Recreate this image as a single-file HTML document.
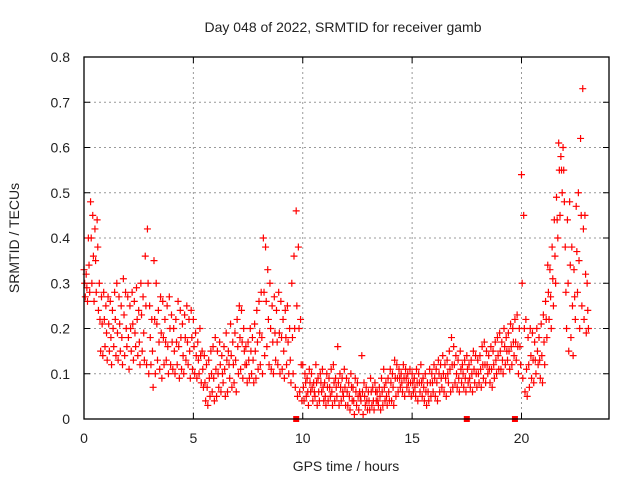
<!DOCTYPE html>
<html><head><meta charset="utf-8"><style>
body{margin:0;background:#fff}
svg{display:block;font-family:"Liberation Sans",sans-serif}
</style></head><body>
<svg id="chart" width="640" height="480">
<text x="343" y="32" text-anchor="middle" font-size="14" fill="#222">Day 048 of 2022, SRMTID for receiver gamb</text>
<text transform="translate(19,238) rotate(-90)" text-anchor="middle" font-size="14" fill="#222">SRMTID / TECUs</text>
<text x="346" y="471" text-anchor="middle" font-size="14" fill="#222">GPS time / hours</text>
<g id="grid"></g>
<g id="ticks"></g>
<g id="points"></g>
<rect x="84" y="57" width="525" height="362" fill="none" stroke="#000" stroke-width="1.3"/>
</svg>
<script>
const xTicks=[0,5,10,15,20];
const yTicks=[0,0.1,0.2,0.3,0.4,0.5,0.6,0.7,0.8];
const yTickLabels=["0","0.1","0.2","0.3","0.4","0.5","0.6","0.7","0.8"];
const startHour=0, stepHour=0.1;
const hiVals=[.33,.32,.40,.48,.45,.42,.44,.30,.27,.28,
.25,.27,.26,.24,.28,.30,.27,.25,.31,.28,
.27,.25,.28,.26,.29,.24,.30,.27,.36,.42,
.25,.22,.35,.30,.24,.27,.26,.22,.25,.27,
.23,.20,.22,.26,.24,.21,.23,.25,.22,.24,
.22,.19,.17,.20,.15,.14,.12,.13,.15,.16,
.18,.15,.17,.14,.16,.19,.15,.21,.17,.19,
.22,.25,.24,.20,.16,.17,.20,.18,.21,.24,
.26,.28,.40,.38,.33,.30,.25,.27,.24,.28,
.26,.22,.24,.25,.20,.30,.36,.46,.38,.22,
.12,.10,.09,.11,.10,.08,.12,.09,.10,.11,
.08,.10,.09,.11,.12,.09,.16,.10,.09,.11,
.09,.08,.10,.07,.09,.08,.06,.14,.08,.07,
.06,.09,.07,.08,.06,.07,.09,.11,.08,.09,
.11,.10,.13,.12,.11,.10,.12,.11,.10,.11,
.10,.09,.11,.10,.12,.09,.10,.08,.11,.10,
.12,.11,.13,.12,.14,.12,.13,.15,.18,.16,
.14,.13,.15,.12,.13,.14,.12,.13,.15,.14,
.13,.14,.16,.17,.15,.14,.16,.15,.17,.18,
.19,.17,.20,.18,.19,.21,.20,.22,.23,.20,
.54,.45,.22,.18,.20,.19,.17,.20,.18,.21,
.23,.26,.34,.33,.38,.44,.49,.61,.58,.60,
.38,.44,.48,.38,.33,.47,.50,.62,.73,.45,.30];
const midVals=[.30,.29,.34,.40,.36,.35,.38,.22,.21,.22,
.19,.21,.18,.20,.22,.19,.21,.18,.23,.20,
.18,.20,.21,.19,.22,.17,.23,.19,.25,.30,
.18,.15,.22,.21,.17,.19,.18,.17,.16,.20,
.17,.15,.17,.16,.18,.14,.18,.17,.15,.18,
.16,.14,.13,.14,.11,.08,.07,.09,.10,.09,
.11,.10,.12,.10,.11,.13,.12,.14,.12,.13,
.16,.18,.17,.15,.12,.13,.15,.13,.15,.17,
.19,.18,.28,.26,.22,.20,.17,.19,.17,.19,
.18,.15,.18,.17,.13,.18,.20,.25,.20,.12,
.07,.08,.06,.08,.07,.06,.08,.06,.08,.07,
.05,.07,.07,.06,.08,.07,.08,.07,.06,.07,
.06,.05,.07,.04,.06,.05,.05,.06,.05,.04,
.04,.06,.04,.06,.04,.05,.06,.07,.05,.06,
.08,.07,.09,.09,.09,.08,.09,.09,.08,.08,
.08,.07,.08,.08,.08,.07,.06,.06,.08,.08,
.09,.08,.10,.09,.10,.09,.10,.11,.12,.12,
.10,.09,.11,.10,.09,.11,.09,.10,.11,.10,
.10,.11,.12,.12,.12,.11,.11,.12,.13,.14,
.15,.13,.16,.15,.15,.16,.17,.17,.16,.16,
.30,.20,.11,.12,.14,.13,.13,.15,.13,.14,
.17,.22,.28,.27,.31,.36,.44,.55,.55,.55,
.28,.30,.34,.25,.27,.37,.35,.45,.42,.32,.24];
const loVals=[.27,.26,.28,.30,.26,.28,.24,.15,.14,.16,
.13,.15,.12,.16,.14,.13,.15,.12,.14,.16,
.11,.15,.13,.16,.14,.12,.15,.13,.12,.10,
.12,.07,.10,.13,.11,.09,.12,.13,.10,.12,
.11,.10,.12,.09,.11,.10,.13,.12,.09,.11,
.10,.09,.10,.08,.07,.04,.03,.05,.06,.04,
.05,.07,.06,.08,.05,.06,.09,.07,.08,.06,
.10,.11,.09,.12,.08,.09,.10,.08,.09,.11,
.12,.10,.14,.16,.12,.11,.10,.13,.12,.10,
.11,.09,.12,.10,.08,.10,.07,.05,.06,.04,
.04,.05,.03,.06,.04,.05,.03,.04,.06,.04,
.03,.04,.05,.03,.04,.05,.03,.04,.05,.03,
.03,.02,.04,.01,.03,.02,.04,.01,.03,.02,
.02,.03,.02,.04,.03,.02,.03,.04,.03,.04,
.04,.03,.05,.06,.07,.06,.05,.07,.06,.05,
.06,.05,.04,.06,.05,.04,.03,.04,.05,.06,
.05,.04,.06,.07,.06,.05,.08,.06,.07,.08,
.07,.06,.08,.07,.06,.08,.07,.06,.08,.07,
.08,.07,.09,.08,.10,.08,.07,.09,.10,.11,
.11,.10,.12,.13,.11,.12,.14,.13,.10,.12,
.09,.06,.05,.07,.09,.08,.10,.12,.09,.08,
.12,.18,.22,.20,.25,.30,.40,.45,.50,.48,
.20,.15,.18,.14,.22,.28,.20,.25,.22,.19,.20];
const zeroHours=[9.7,17.5,19.7];

const X0=84,X1=609,Y0=419,Y1=57;
const xs=h=>X0+(h/24)*(X1-X0);
const ys=v=>Y0-(v/0.8)*(Y0-Y1);
const NS="http://www.w3.org/2000/svg";
const grid=document.getElementById('grid'),ticks=document.getElementById('ticks'),pts=document.getElementById('points');
function mk(tag,attrs,parent){const e=document.createElementNS(NS,tag);for(const k in attrs)e.setAttribute(k,attrs[k]);parent.appendChild(e);return e;}
xTicks.forEach(t=>{
  const x=xs(t);
  if(t>0){const g=mk('line',{x1:x,x2:x,y1:Y0,y2:Y1,stroke:'#999','stroke-dasharray':'2,3'},grid);
  
  }
  mk('line',{x1:x,x2:x,y1:Y0,y2:Y0-6,stroke:'#000'},grid);
  mk('line',{x1:x,x2:x,y1:Y1,y2:Y1+6,stroke:'#000'},grid);
  const l=mk('text',{x:x,y:443,'text-anchor':'middle','font-size':14,fill:'#222'},ticks);
  l.textContent=t;
  
  
});
yTicks.forEach((t,i)=>{
  const y=ys(t);
  if(t>0&&t<0.8){const g=mk('line',{x1:X0,x2:X1,y1:y,y2:y,stroke:'#999','stroke-dasharray':'2,3'},grid);
  
  }
  mk('line',{x1:X0,x2:X0+6,y1:y,y2:y,stroke:'#000'},grid);
  mk('line',{x1:X1,x2:X1-6,y1:y,y2:y,stroke:'#000'},grid);
  const l=mk('text',{x:70,y:y+5,'text-anchor':'end','font-size':14,fill:'#222'},ticks);
  l.textContent=yTickLabels[i];
  
  
});
function plus(h,v,color){
  const x=xs(h),y=ys(v);
  const p=mk('path',{d:`M${x-3.5},${y}h7M${x},${y-3.5}v7`,stroke:color,'stroke-width':1.2,fill:'none'},pts);
  
  
}
hiVals.forEach((v,i)=>plus(startHour+i*stepHour,v,'#f00'));
midVals.forEach((v,i)=>plus(startHour+i*stepHour+0.03,v,'#f00'));
loVals.forEach((v,i)=>plus(startHour+i*stepHour+0.06,v,'#f00'));
zeroHours.forEach(h=>{
  const r=mk('rect',{x:xs(h)-3,y:Y0-3,width:6,height:6,fill:'#f00'},pts);
  
  
});
</script>
</body></html>
